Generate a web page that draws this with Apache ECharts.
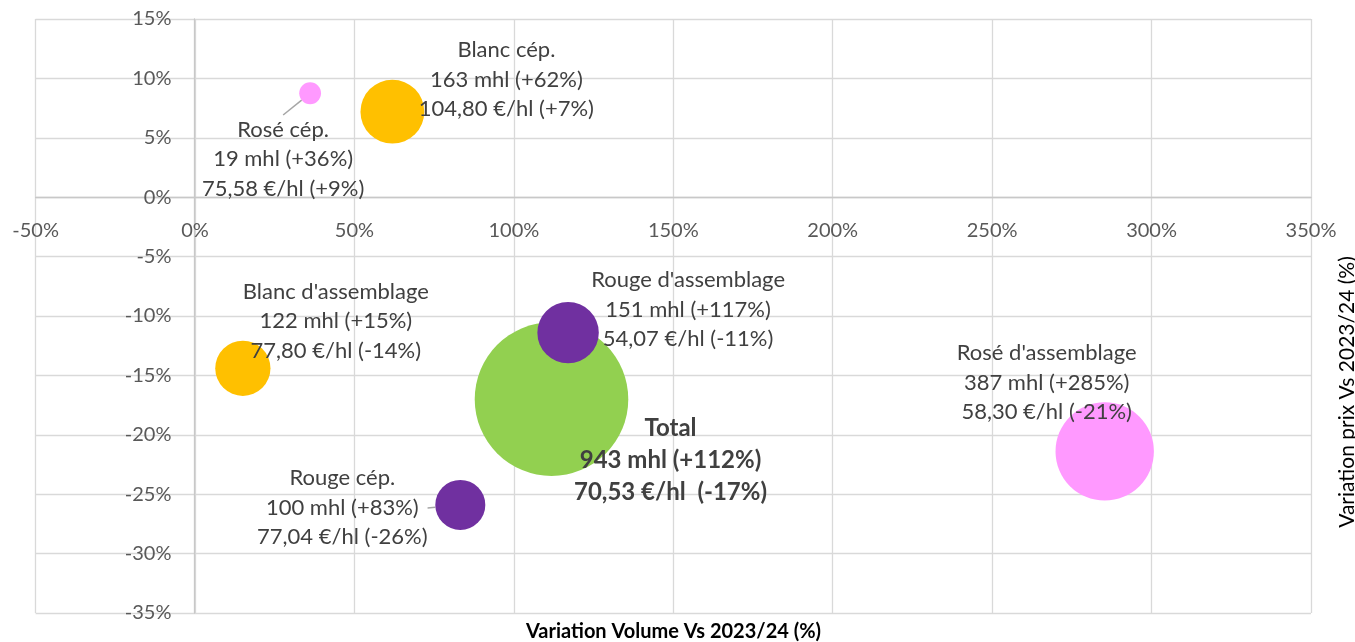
<!DOCTYPE html>
<html>
<head>
<meta charset="utf-8">
<script src="https://cdn.jsdelivr.net/npm/echarts@6/dist/echarts.min.js"></script>
<style>
  html, body { margin: 0; padding: 0; background: #fff; }
  #chatMain { width: 1355px; height: 642px; }
</style>
</head>
<body>
<div id="chatMain"></div>
<script>
// données
const names = ['Total', 'Rosé cép.', 'Blanc cép.', "Blanc d'assemblage", "Rouge d'assemblage", 'Rouge cép.', "Rosé d'assemblage"];
const volumes = [943, 19, 163, 122, 151, 100, 387];           // mhl
const volumeChange = [111.8, 36.1, 61.9, 15.0, 117.0, 83.2, 285.3]; // %
const prices = [70.53, 75.58, 104.80, 77.80, 54.07, 77.04, 58.30];   // €/hl
const priceChange = [-17.0, 8.75, 7.2, -14.4, -11.4, -25.9, -21.4];  // %
const colors = ['#92D050', '#FF99FF', '#FFC000', '#FFC000', '#7030A0', '#7030A0', '#FF99FF'];

// décalage des étiquettes (px) par rapport au centre de la bulle
const labelOffsets = [[119, 61], [-27, 66], [114, -32], [93, -47], [120, -23], [-118, 3], [-58, -69]];
const withLine = [false, true, false, false, false, true, false];

const fmtPct = v => (v > 0 ? '+' : '') + Math.round(v) + '%';
const fmtPrice = v => v.toFixed(2).replace('.', ',');

const data = names.map((n, i) => ({
  name: n,
  value: [volumeChange[i], priceChange[i], volumes[i]],
  itemStyle: { color: colors[i], opacity: 1 },
  labelLine: { show: withLine[i], lineStyle: { color: '#a6a6a6', width: 1.5 } },
  label: i === 0 ? {
    fontWeight: 'bold', fontSize: 24, lineHeight: 32, color: '#404040',
    formatter: () => n + '\n' + volumes[i] + ' mhl (' + fmtPct(volumeChange[i]) + ')\n' + fmtPrice(prices[i]) + ' €/hl  (' + fmtPct(priceChange[i]) + ')'
  } : {}
}));

const myechart = echarts.init(document.getElementById('chatMain'));
const option = {
  animation: false,
  textStyle: { fontFamily: 'Lato, sans-serif' },
  grid: { left: 35.6, right: 44, top: 19, bottom: 29, outerBoundsMode: 'none' },
  xAxis: {
    type: 'value', min: -50, max: 350, interval: 50,
    offset: -415.7, // axe croisant y = 0
    axisLine: { onZero: false, lineStyle: { color: '#c8c8c8', width: 1.3 } },
    axisTick: { show: false },
    axisLabel: { color: '#595959', fontSize: 20, margin: 23, formatter: v => v + '%' },
    splitLine: { lineStyle: { color: '#d9d9d9', width: 1.3 } }
  },
  yAxis: {
    type: 'value', min: -35, max: 15, interval: 5,
    offset: -158.9, // axe croisant x = 0
    axisLine: { show: true, onZero: false, lineStyle: { color: '#c8c8c8', width: 1.3 } },
    axisTick: { show: false },
    axisLabel: { color: '#595959', fontSize: 20, margin: 23, formatter: v => v + '%' },
    splitLine: { lineStyle: { color: '#d9d9d9', width: 1.3 } }
  },
  graphic: [{
    type: 'text',
    x: 673.5, y: 632,
    style: {
      text: 'Variation Volume Vs 2023/24 (%)',
      fontSize: 20, fontWeight: 'bold', fill: '#000', fontFamily: 'Lato, sans-serif',
      align: 'center', verticalAlign: 'middle'
    }
  }, {
    type: 'text',
    x: 1347, y: 392,
    rotation: Math.PI / 2,
    style: {
      text: 'Variation prix Vs 2023/24 (%)',
      fontSize: 21, fill: '#000', fontFamily: 'Lato, sans-serif',
      align: 'center', verticalAlign: 'middle'
    }
  }],
  series: [{
    type: 'scatter',
    data: data,
    symbolSize: v => 5.0 * Math.sqrt(v[2]),
    label: {
      show: true,
      position: 'inside',
      color: '#404040',
      fontSize: 22,
      lineHeight: 29.5,
      align: 'center',
      verticalAlign: 'middle',
      formatter: p => {
        const i = p.dataIndex;
        return names[i] + '\n' + volumes[i] + ' mhl (' + fmtPct(volumeChange[i]) + ')\n' + fmtPrice(prices[i]) + ' €/hl (' + fmtPct(priceChange[i]) + ')';
      }
    },
    labelLayout: p => ({ dx: labelOffsets[p.dataIndex][0], dy: labelOffsets[p.dataIndex][1] }),
    emphasis: { disabled: true }
  }]
};
myechart.setOption(option);
</script>
</body>
</html>
